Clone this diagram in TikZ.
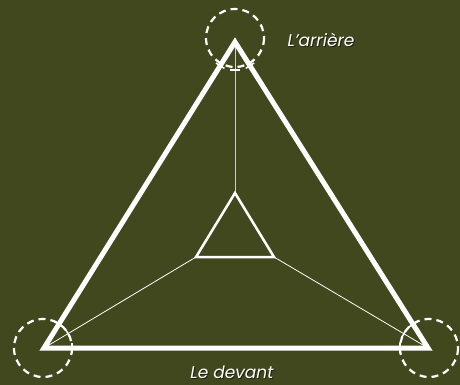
\documentclass[tikz,border=0pt]{standalone}
\usepackage{fontspec}
\usetikzlibrary{calc}
\setmainfont{Poppins}
\definecolor{bg}{RGB}{66,72,30}
\definecolor{shadow}{RGB}{30,32,12}
\begin{document}
\begin{tikzpicture}[x=1pt,y=-1pt,
  outer/.style={draw=white,line width=5pt,line join=miter},
  inner/.style={draw=white,line width=2.5pt},
  spoke/.style={draw=white,line width=0.8pt},
  ring/.style={draw=white,line width=2.2pt,dash pattern=on 7pt off 5pt},
  tick/.style={draw=white,line width=1.5pt},
  lbl/.style={text=white,font=\itshape\fontsize{17}{19}\selectfont}]
\fill[bg] (0,0) rectangle (460,385);
\useasboundingbox (0,0) rectangle (460,385);
\coordinate (A) at (235,42);
\coordinate (B) at (44,348);
\coordinate (C) at (428,348);
\coordinate (a) at (235,193);
\coordinate (b) at (196,257);
\coordinate (c) at (274,257);
% spokes
\draw[spoke,draw=white!75!bg] (a) -- (A);
\draw[spoke] (b) -- (B);
\draw[spoke] (c) -- (C);
% outer & inner
\draw[outer] (A) -- (B) -- (C) -- cycle;
\draw[inner] (a) -- (b) -- (c) -- cycle;
% rings
\draw[ring] (235,38) circle (29);
\draw[ring] (43,348) circle (29);
\draw[ring] (429,348) circle (29);
% ticks at ring crossings
\foreach \P/\Q in {A/B,A/C,A/a,B/A,B/C,B/b,C/A,C/B,C/c}{
  \draw[tick] ($(\P)!28pt!(\Q)!5pt!90:(\Q)$) -- ($(\P)!28pt!(\Q)!5pt!-90:(\Q)$);
}
% labels
\node[lbl,text=shadow] at (322,41) {L’arrière};
\node[lbl] (back) at (321,40) {L’arrière};
\node[lbl,text=shadow] at (233,373) {Le devant};
\node[lbl] (front) at (232,372) {Le devant};
\end{tikzpicture}
\end{document}
